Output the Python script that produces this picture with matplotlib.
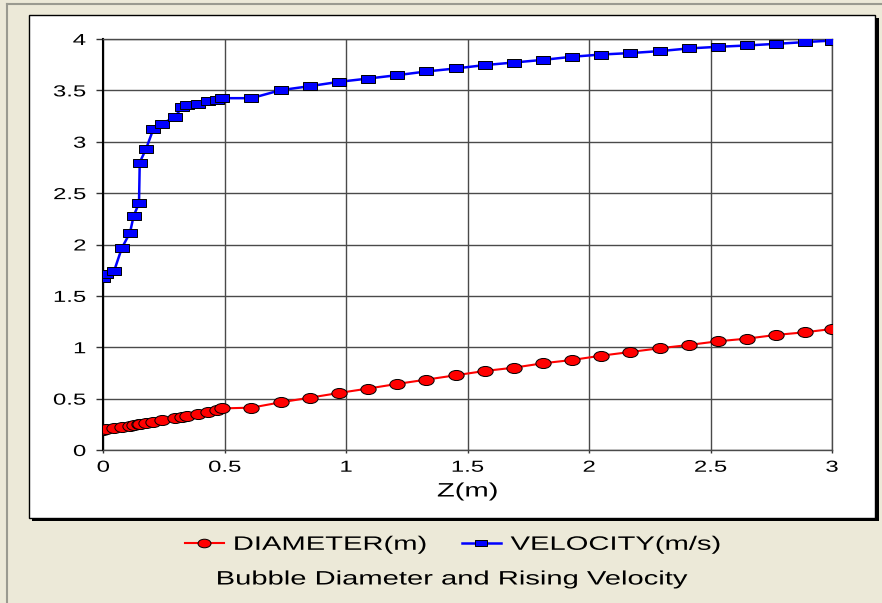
import matplotlib
matplotlib.use('Agg')
import matplotlib.pyplot as plt
from matplotlib.path import Path
from matplotlib.transforms import Affine2D
from matplotlib.patches import Rectangle
from matplotlib.lines import Line2D
from matplotlib.patheffects import AbstractPathEffect

plt.rcParams['font.family'] = ['Liberation Sans', 'DejaVu Sans']

# 读图得到的数据
z_pts = [0.0, 0.01, 0.045, 0.076, 0.11, 0.125, 0.147, 0.15, 0.176, 0.206,
         0.24, 0.296, 0.325, 0.343, 0.391, 0.43, 0.467, 0.49, 0.61, 0.73,
         0.85, 0.97, 1.09, 1.21, 1.33, 1.45, 1.57, 1.69, 1.81, 1.93, 2.05,
         2.17, 2.29, 2.41, 2.53, 2.65, 2.77, 2.89, 3.0]
diameter = [0.195, 0.20, 0.21, 0.22, 0.235, 0.24, 0.25, 0.255, 0.265, 0.275,
            0.29, 0.31, 0.325, 0.335, 0.355, 0.37, 0.39, 0.405, 0.412, 0.464,
            0.509, 0.555, 0.598, 0.643, 0.685, 0.727, 0.769, 0.801, 0.844, 0.876,
            0.918, 0.954, 0.99, 1.022, 1.058, 1.084, 1.12, 1.146, 1.178]
velocity = [1.67, 1.71, 1.746, 1.964, 2.116, 2.279, 2.402, 2.798, 2.931, 3.123,
            3.171, 3.245, 3.34, 3.353, 3.366, 3.392, 3.408, 3.424, 3.424, 3.502,
            3.541, 3.583, 3.615, 3.648, 3.684, 3.713, 3.746, 3.771, 3.797, 3.827,
            3.849, 3.863, 3.882, 3.908, 3.924, 3.937, 3.953, 3.97, 3.985]
x_ticks = [0, 0.5, 1, 1.5, 2, 2.5, 3]
x_labels = ['0', '0.5', '1', '1.5', '2', '2.5', '3']
y_ticks = [0, 0.5, 1, 1.5, 2, 2.5, 3, 3.5, 4]
y_labels = ['0', '0.5', '1', '1.5', '2', '2.5', '3', '3.5', '4']

W, H = 882, 603
STRETCH = 1.5  # 原图文字横向被拉宽


class StretchX(AbstractPathEffect):
    """把文字路径横向拉宽, anchor 为对齐点 (0 左, 0.5 中, 1 右)"""

    def __init__(self, factor=STRETCH, anchor=0.5):
        super().__init__()
        self.factor = factor
        self.anchor = anchor

    def draw_path(self, renderer, gc, tpath, affine, rgbFace=None):
        ext = tpath.get_extents(affine)
        x0 = ext.x0 + self.anchor * ext.width
        aff = affine + Affine2D().translate(-x0, 0).scale(self.factor, 1).translate(x0, 0)
        renderer.draw_path(gc, tpath, aff, rgbFace)


def fx(px):
    return px / W


def fy(py):
    return 1 - py / H


fig = plt.figure(figsize=(W / 100, H / 100), dpi=100)
fig.patch.set_facecolor('#ECE9D8')

# 外框线和白色面板（带阴影）
fig.add_artist(Line2D([fx(7), fx(7)], [fy(4), 0], color='#9a9a90', lw=1.5, zorder=-3))
fig.add_artist(Line2D([fx(7), 1], [fy(4), fy(4)], color='#9a9a90', lw=1.5, zorder=-3))
fig.add_artist(Rectangle((fx(32), fy(521)), fx(876 - 29), (518 - 15) / H,
                         facecolor='black', edgecolor='none', zorder=-2))
fig.add_artist(Rectangle((fx(29), fy(518)), fx(875 - 29), (518 - 15) / H,
                         facecolor='white', edgecolor='black', lw=1, zorder=-1))

ax = fig.add_axes([fx(103.3), fy(450), fx(832 - 103.3), (450 - 39) / H])
ax.set_facecolor('white')

rect_marker = Path([(-1, -0.58), (1, -0.58), (1, 0.58), (-1, 0.58), (-1, -0.58)],
                   [Path.MOVETO, Path.LINETO, Path.LINETO, Path.LINETO, Path.CLOSEPOLY])
ellipse_marker = Path.unit_circle().transformed(Affine2D().scale(1.0, 0.66))

l_dia, = ax.plot(z_pts, diameter, color='red', lw=1.5, marker=ellipse_marker, ms=11,
                 mfc='red', mec='black', mew=0.7, label='DIAMETER(m)', zorder=3)
l_vel, = ax.plot(z_pts, velocity, color='blue', lw=1.8, marker=rect_marker, ms=9.8,
                 mfc='blue', mec='black', mew=0.7, label='VELOCITY(m/s)', zorder=3)

ax.set_xlim(0, 3)
ax.set_ylim(0, 4)
ax.set_xticks(x_ticks)
ax.set_xticklabels(x_labels)
ax.set_yticks(y_ticks)
ax.set_yticklabels(y_labels)
ax.tick_params(axis='both', labelsize=11.5, width=1, color='#333333')
ax.tick_params(axis='y', length=5, pad=7.5)
ax.tick_params(axis='x', length=2.5, pad=4.5)
ax.grid(True, color='#4a4a4a', lw=1)
ax.set_axisbelow(True)
for side in ['top', 'right', 'bottom']:
    ax.spines[side].set_color('#4a4a4a')
    ax.spines[side].set_linewidth(1)
ax.spines['left'].set_color('black')
ax.spines['left'].set_linewidth(1.5)

for t in ax.xaxis.get_major_ticks():
    t.label1.set_path_effects([StretchX(anchor=0.5)])
for t in ax.yaxis.get_major_ticks():
    t.label1.set_path_effects([StretchX(anchor=1.0)])

xl = ax.set_xlabel('Z(m)', fontsize=14, va='center')
ax.xaxis.set_label_coords(0.5, -(492 - 450) / 411)
xl.set_path_effects([StretchX(anchor=0.5)])

# 图例：两个条目分别放置
for handle, x_left in [(l_dia, 185), (l_vel, 462)]:
    leg = fig.legend(handles=[handle], loc='center left', bbox_to_anchor=(fx(x_left), fy(545)),
                     frameon=False, fontsize=14, handlelength=2.0, handletextpad=0.5,
                     borderpad=0, borderaxespad=0, markerscale=0.85)
    for t in leg.get_texts():
        t.set_path_effects([StretchX(anchor=0.0)])

title = fig.text(fx(453), fy(580), 'Bubble Diameter and Rising Velocity', fontsize=14,
                 ha='center', va='center')
title.set_path_effects([StretchX(anchor=0.5)])

fig.savefig('out.png', dpi=100, facecolor=fig.get_facecolor())
plt.close(fig)
